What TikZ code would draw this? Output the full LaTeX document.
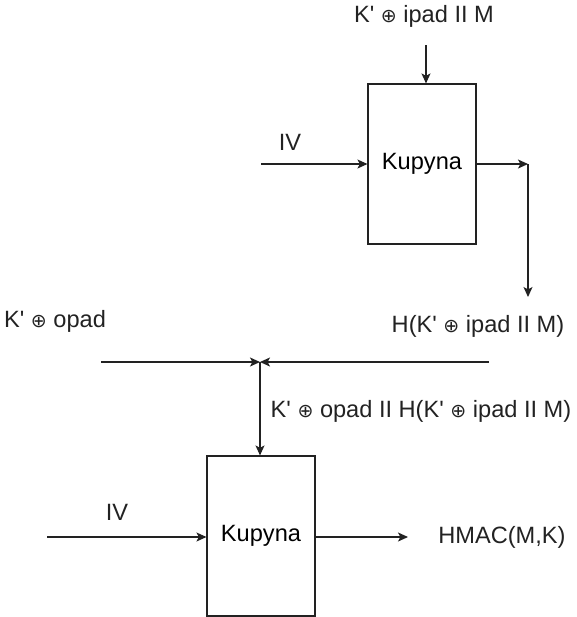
\documentclass[tikz,border=0pt]{standalone}
\usepackage{fontspec}
\setmainfont{Liberation Sans}
\newfontfamily\symf{DejaVu Sans}
\usetikzlibrary{positioning, arrows.meta, calc}
\newcommand{\xorsym}{{\symf\fontsize{9.5}{10}\selectfont ⊕}}
\newcommand{\kp}{K\textquotesingle}
\definecolor{ink}{HTML}{222222}
\tikzset{
  hbox/.style={draw=ink, line width=0.55pt, minimum width=54pt, minimum height=80pt,
               inner sep=0pt, font=\fontsize{11.8}{14}\selectfont},
  arr/.style={-{Stealth[length=5pt, width=4.5pt, inset=1.2pt]}, line width=0.55pt, draw=ink},
  txt/.style={font=\fontsize{11.8}{14}\selectfont, text=ink, inner sep=0pt},
}
\begin{document}
\begin{tikzpicture}[x=0.5pt, y=-0.5pt]
        \useasboundingbox (0,0) rectangle (577,617);
        % first hash
        \node[hbox] (k1) at (422,164) {Kupyna};
        \node[txt] (inlbl) at (424,16) {\kp{} \xorsym{} ipad II M};
        \node[txt] (iv1lbl) at (290,142) {IV};
        \coordinate (in1) at (426,45);
        \coordinate (iv1) at (261,164);
        \coordinate (bend) at (528,164);
        \coordinate (hout) at (528,297);
        \draw[arr] (in1) -- (in1 |- k1.north);
        \draw[arr] (iv1) -- (k1.west |- iv1);
        \draw[arr] (k1.east |- bend) -- (bend);
        \draw[arr] (bend) -- (hout);
        \node[txt] (hlbl) at (478,326) {H(\kp{} \xorsym{} ipad II M)};
        % second hash
        \node[txt] (opadlbl) at (55,321) {\kp{} \xorsym{} opad};
        \coordinate (opadin) at (101,362);
        \coordinate (hin) at (489,362);
        \coordinate (join) at (260,362);
        \draw[arr] (opadin) -- (join);
        \draw[arr] (hin) -- (join);
        \node[hbox] (k2) at (261,536) {Kupyna};
        \draw[arr] (join) -- (join |- k2.north);
        \node[txt] (catlbl) at (421,411) {\kp{} \xorsym{} opad II H(\kp{} \xorsym{} ipad II M)};
        \node[txt] (iv2lbl) at (117,512) {IV};
        \coordinate (iv2) at (47,537);
        \draw[arr] (iv2) -- (k2.west |- iv2);
        \node[txt, anchor=west] (hmac) at (438,537) {HMAC(M,K)};
        \draw[arr] (k2.east |- hmac) -- ([xshift=-15pt]hmac.west);
      \end{tikzpicture}
\end{document}
